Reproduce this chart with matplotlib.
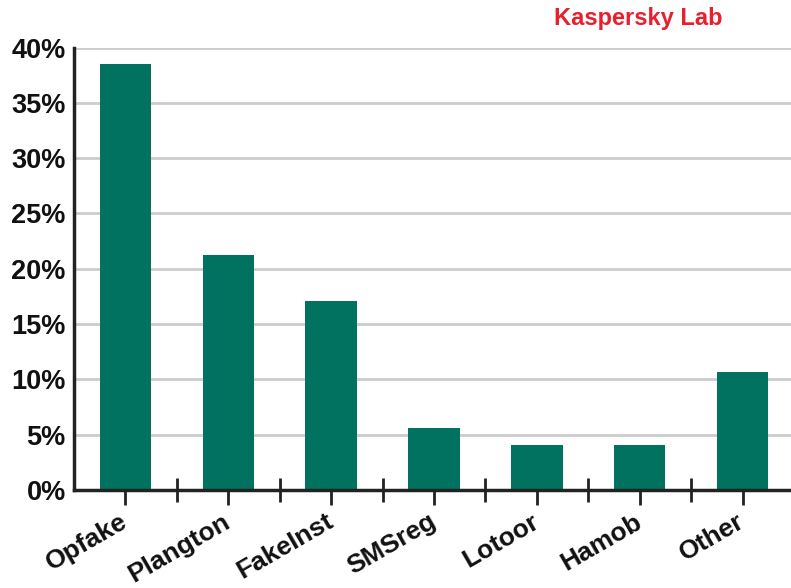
import matplotlib
matplotlib.use("Agg")
import matplotlib.pyplot as plt
from matplotlib.ticker import FuncFormatter
from matplotlib.transforms import ScaledTranslation

# Доли семейств (в %)
families = ["Opfake", "Plangton", "FakeInst", "SMSreg", "Lotoor", "Hamob", "Other"]
shares = [38.5, 21.2, 17.1, 5.6, 4.1, 4.1, 10.7]
y_ticks = [0, 5, 10, 15, 20, 25, 30, 35, 40]

BAR_COLOR = "#00725f"
GRID_COLOR = "#cccccc"

plt.rcParams["font.family"] = ["Liberation Sans", "DejaVu Sans"]
plt.rcParams["font.weight"] = "bold"

fig = plt.figure(figsize=(7.91, 5.88), dpi=100)
ax = fig.add_axes([74 / 791, 1 - 490 / 588, (791 - 74) / 791, (490 - 47.5) / 588])

x = list(range(len(families)))
ax.bar(x, shares, width=0.5, color=BAR_COLOR, zorder=3)

ax.set_ylim(0, 40)
ax.set_xlim(-0.5, 6.47)
ax.set_yticks(y_ticks)
ax.yaxis.set_major_formatter(FuncFormatter(lambda v, _: f"{v:.0f}%"))
ax.grid(axis="y", color=GRID_COLOR, linewidth=2, zorder=0)

for s in ["top", "right"]:
    ax.spines[s].set_visible(False)
for s in ["left", "bottom"]:
    ax.spines[s].set_linewidth(2.5)
    ax.spines[s].set_color("#222222")
    ax.spines[s].set_zorder(4)

ax.tick_params(axis="y", length=0, pad=6, labelsize=19.5, labelcolor="#111111")
ax.set_xticks(x)
ax.set_xticklabels(families, rotation=30, ha="right", rotation_mode="anchor",
                   fontsize=19, color="#111111")
ax.tick_params(axis="x", which="major", length=11, width=2, direction="out",
               color="#222222", pad=3)
# подписи категорий чуть левее засечек
shift = ScaledTranslation(-6 / 100, 0, fig.dpi_scale_trans)
for lbl in ax.get_xticklabels():
    lbl.set_transform(lbl.get_transform() + shift)
# засечки между категориями (в обе стороны от оси)
ax.set_xticks([i + 0.5 for i in x[:-1]], minor=True)
ax.tick_params(axis="x", which="minor", length=17, width=2, direction="inout",
               color="#222222")

fig.text(638 / 791, 1 - 18 / 588, "Kaspersky Lab", color="#e8202e",
         fontsize=17, fontweight="bold", ha="center", va="center")

fig.savefig("out.png", dpi=100)
